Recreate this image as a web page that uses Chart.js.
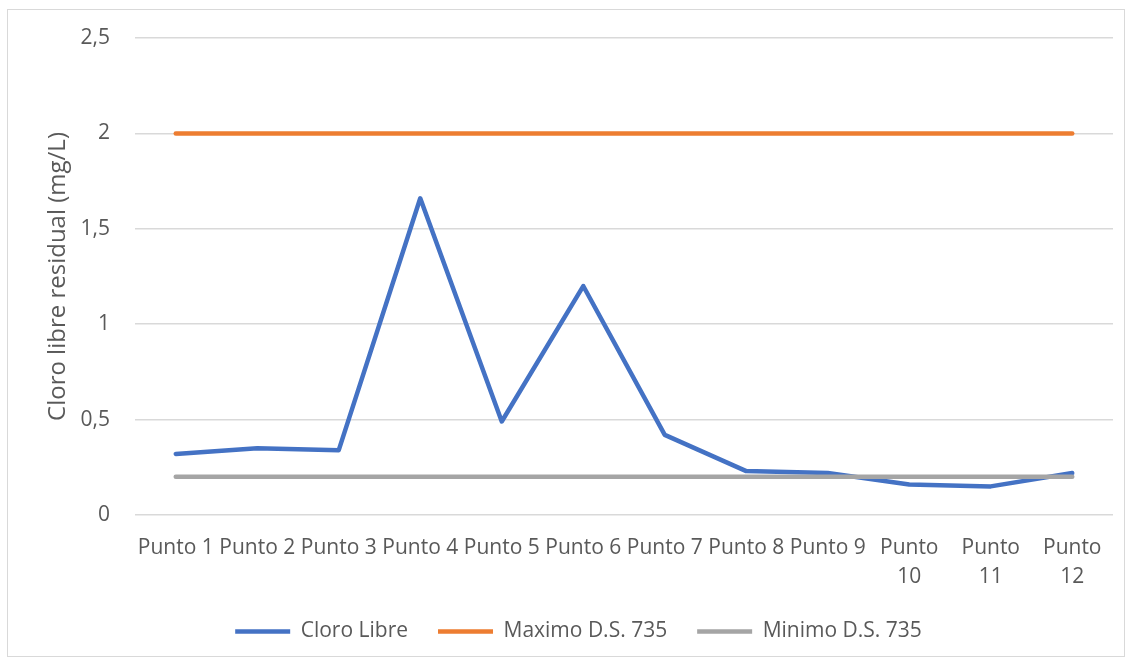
<!DOCTYPE html>
<html>
<head>
<meta charset="utf-8">
<script src="https://cdn.jsdelivr.net/npm/chart.js@4"></script>
<style>
    html, body { margin: 0; padding: 0; background: #fff; }
    #wrap { position: relative; width: 1130px; height: 659px; }
    #frame { position: absolute; left: 7px; top: 9px; width: 1116px; height: 646px; border: 1px solid #d9d9d9; }
    #chart-box { position: absolute; left: 0; top: 0; width: 1130px; height: 659px; }
</style>
</head>
<body>
<div id="wrap">
    <div id="frame"></div>
    <div id="chart-box"><canvas id="cloro-chart"></canvas></div>
</div>
<script>
// Categories (long ones wrap on two lines like the original)
const puntos = ['Punto 1', 'Punto 2', 'Punto 3', 'Punto 4', 'Punto 5', 'Punto 6',
    'Punto 7', 'Punto 8', 'Punto 9', ['Punto', '10'], ['Punto', '11'], ['Punto', '12']];

// Series values (mg/L)
const cloroLibre = [0.32, 0.35, 0.34, 1.66, 0.49, 1.20, 0.42, 0.23, 0.22, 0.16, 0.15, 0.22];
const maximoDS735 = [2, 2, 2, 2, 2, 2, 2, 2, 2, 2, 2, 2];
const minimoDS735 = [0.2, 0.2, 0.2, 0.2, 0.2, 0.2, 0.2, 0.2, 0.2, 0.2, 0.2, 0.2];

const textColor = '#595959';
const fontFamily = "'Open Sans', 'Noto Sans', sans-serif";

function serie(label, data, color, order) {
    return {
        label: label,
        data: data,
        borderColor: color,
        backgroundColor: color,
        borderWidth: 4.5,
        borderCapStyle: 'round',
        borderJoinStyle: 'round',
        pointRadius: 0,
        pointHoverRadius: 0,
        tension: 0,
        order: order,
    };
}

const ctx = document.getElementById('cloro-chart').getContext('2d');

new Chart(ctx, {
    type: 'line',
    data: {
        labels: puntos,
        datasets: [
            serie('Cloro Libre', cloroLibre, '#4472C4', 3),
            serie('Maximo D.S. 735', maximoDS735, '#ED7D31', 2),
            serie('Minimo D.S. 735', minimoDS735, '#A5A5A5', 1),
        ],
    },
    options: {
        responsive: true,
        maintainAspectRatio: false,
        animation: false,
        layout: {
            padding: { left: 44, top: 38, right: 17, bottom: 7 },
        },
        plugins: {
            tooltip: { enabled: false },
            legend: {
                position: 'bottom',
                labels: {
                    usePointStyle: true,
                    pointStyle: 'line',
                    pointStyleWidth: 55,
                    padding: 30,
                    color: textColor,
                    font: { family: fontFamily, size: 21 },
                    sort: (a, b) => a.datasetIndex - b.datasetIndex,
                },
            },
        },
        scales: {
            x: {
                offset: true,
                grid: { display: false },
                border: { display: false },
                afterFit: (scale) => { scale.height = 76; },
                ticks: {
                    color: textColor,
                    autoSkip: false,
                    maxRotation: 0,
                    minRotation: 0,
                    padding: 10,
                    font: { family: fontFamily, size: 21, lineHeight: 1.4 },
                },
            },
            y: {
                min: 0,
                max: 2.5,
                afterFit: (scale) => { scale.width = 91; },
                grid: { color: '#d9d9d9', lineWidth: 1.5, drawTicks: false },
                border: { display: false },
                ticks: {
                    stepSize: 0.5,
                    color: textColor,
                    padding: 25,
                    font: { family: fontFamily, size: 21 },
                    callback: (v) => String(v).replace('.', ','),
                },
                title: {
                    display: true,
                    text: 'Cloro libre residual (mg/L)',
                    color: textColor,
                    padding: { top: 0, bottom: 0 },
                    font: { family: fontFamily, size: 24 },
                },
            },
        },
    },
});
</script>
</body>
</html>
